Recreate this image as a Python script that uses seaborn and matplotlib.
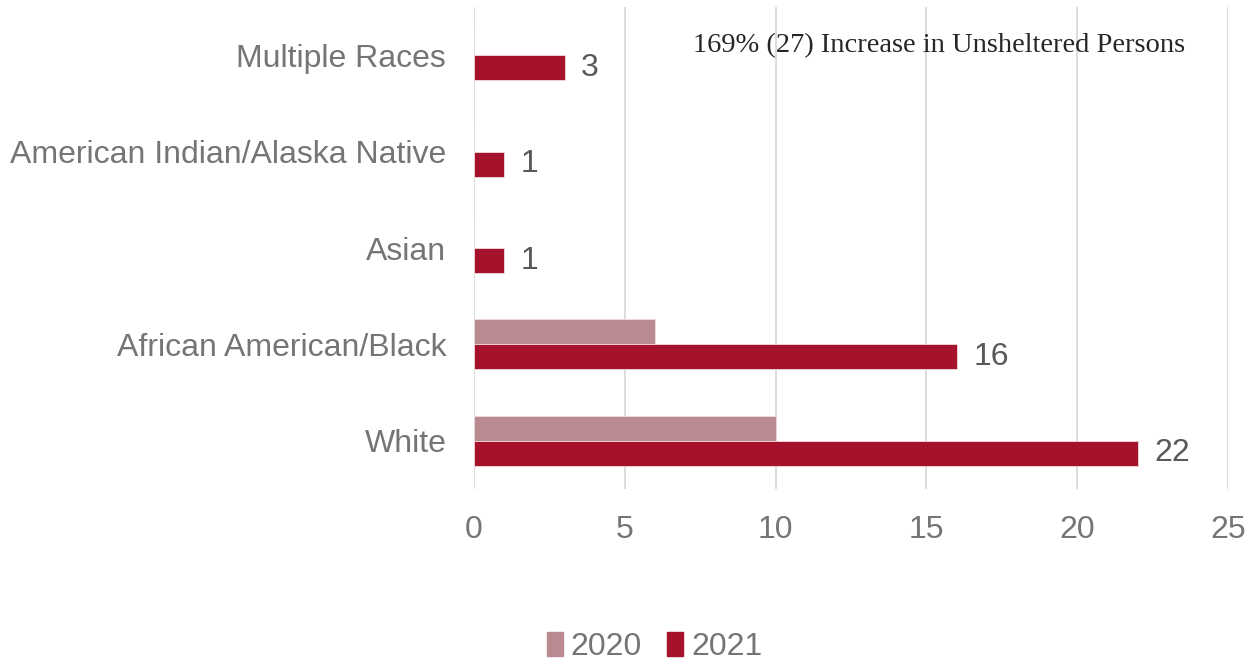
import matplotlib
matplotlib.use("Agg")
import matplotlib.pyplot as plt
import seaborn as sns
import pandas as pd

categories = ["Multiple Races", "American Indian/Alaska Native", "Asian",
              "African American/Black", "White"]
values_2020 = [0, 0, 0, 6, 10]
values_2021 = [3, 1, 1, 16, 22]
years = ["2020", "2021"]
x_ticks = [0, 5, 10, 15, 20, 25]
annotation = "169% (27) Increase in Unsheltered Persons"

df = pd.DataFrame({
    "Race": categories * 2,
    "Count": values_2020 + values_2021,
    "Year": [years[0]] * len(categories) + [years[1]] * len(categories),
})

sns.set_theme(style="white")
plt.rcParams["font.family"] = ["Liberation Sans", "DejaVu Sans"]

fig = plt.figure(figsize=(12.59, 6.63), dpi=100)
ax = fig.add_axes([0.3765, 0.2624, 0.599, 0.727])

palette = {"2020": "#B98A90", "2021": "#A6122B"}
sns.barplot(data=df, y="Race", x="Count", hue="Year", order=categories,
            hue_order=years, palette=palette, width=0.52, orient="h",
            saturation=1, edgecolor="#f0dcdf", linewidth=0.6, ax=ax,
            legend=True)

ax.set_xlim(0, 25)
ax.set_ylim(len(categories) - 0.5, -0.5)
ax.set_xticks(x_ticks)
ax.set_xlabel("")
ax.set_ylabel("")
for s in ax.spines.values():
    s.set_visible(False)
ax.grid(axis="x", color="#d9d9d9", linewidth=1.3)
ax.grid(axis="y", visible=False)
ax.set_axisbelow(True)
ax.tick_params(axis="both", length=0, labelsize=23, colors="#757575")
ax.tick_params(axis="y", pad=20)
ax.tick_params(axis="x", pad=19)

# data labels for 2021 only
cont_2021 = ax.containers[1]
ax.bar_label(cont_2021, labels=[str(v) for v in values_2021], padding=12,
             fontsize=23, color="#595959")

ax.text(693 / 1259, 1 - 46 / 663, annotation, transform=fig.transFigure,
        fontsize=20.5, family="Liberation Serif", color="#262626",
        ha="left", va="center")

leg = ax.get_legend()
if leg is not None:
    leg.remove()
handles = [plt.Rectangle((0, 0), 1, 1, color=palette[y]) for y in years]
fig.legend(handles, years, loc="center", bbox_to_anchor=(0.52, 0.024),
           ncol=2, frameon=False, fontsize=23, labelcolor="#757575",
           handlelength=0.5, handleheight=0.75, handletextpad=0.25,
           columnspacing=0.8)

fig.savefig("out.png", dpi=100)
